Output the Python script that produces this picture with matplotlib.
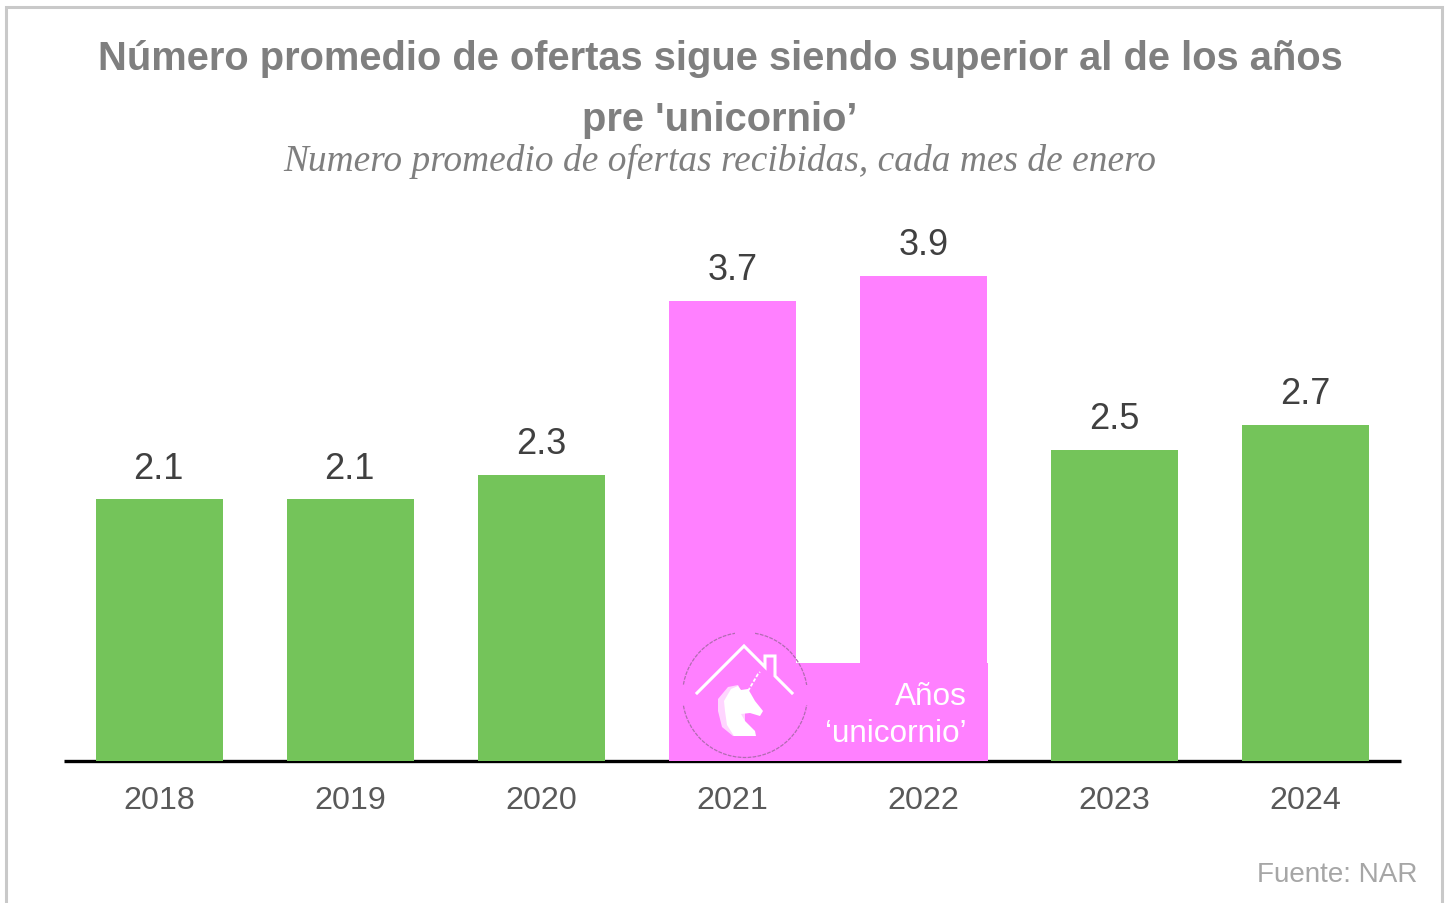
import matplotlib
matplotlib.use("Agg")
import matplotlib.pyplot as plt
from matplotlib.patches import Rectangle, Circle, Polygon
from matplotlib.transforms import Affine2D

W, H = 1447, 904
SANS = "Liberation Sans"
SERIF = "Liberation Serif"

years = ["2018", "2019", "2020", "2021", "2022", "2023", "2024"]
offers = [2.1, 2.1, 2.3, 3.7, 3.9, 2.5, 2.7]
bar_colors = ["#74c45a", "#74c45a", "#74c45a", "#ff80ff", "#ff80ff", "#74c45a", "#74c45a"]

PINK = "#ff80ff"

fig = plt.figure(figsize=(W / 100, H / 100), dpi=100, facecolor="white")

# pixel coordinates, origin top left, for the furniture around the chart
px = Affine2D().scale(1 / W, -1 / H).translate(0, 1) + fig.transFigure


def fig_text(x, y, s, **kw):
    fig.text(x, y, s, transform=px, **kw)


# frame, the bottom edge runs off the picture
fig.add_artist(plt.Line2D([6, 6, 1442, 1442], [904, 8, 8, 904], transform=px,
                          color="#c9c9c9", lw=2.2, solid_joinstyle="miter"))

ax = fig.add_axes([64 / W, 1 - 761.5 / H, (1401 - 64) / W, (761.5 - 200) / H])
ax.bar(years, offers, width=0.667, color=bar_colors, zorder=2)
ax.set_xlim(-0.5, 6.5)
ax.set_ylim(0, 561.5 / 124.3)
for s in ["top", "left", "right"]:
    ax.spines[s].set_visible(False)
ax.spines["bottom"].set_linewidth(2.4)
ax.spines["bottom"].set_color("black")
ax.spines["bottom"].set_zorder(1)
ax.spines["bottom"].set_capstyle("butt")
ax.set_yticks([])
ax.tick_params(axis="x", length=0, pad=17.5, labelsize=23.2, labelcolor="#595959")
for t in ax.get_xticklabels():
    t.set_fontfamily(SANS)

for i, v in enumerate(offers):
    ax.annotate(f"{v}", (i, v), xytext=(-0.7 if i < 2 else 0, 10), textcoords="offset points",
                ha="center", va="bottom", fontsize=26, color="#404040", family=SANS)

fig_text(720, 59, "Número promedio de ofertas sigue siendo superior al de los años",
         ha="center", va="center", fontsize=28.7, fontweight="bold", color="#7f7f7f", family=SANS)
fig_text(720, 120, "pre 'unicornio’",
         ha="center", va="center", fontsize=28.7, fontweight="bold", color="#7f7f7f", family=SANS)
fig_text(720, 161, "Numero promedio de ofertas recibidas, cada mes de enero",
         ha="center", va="center", fontsize=26.9, style="italic", color="#7f7f7f", family=SERIF)
fig_text(1417, 875, "Fuente: NAR", ha="right", va="center", fontsize=20.1, color="#a6a6a6", family=SANS)

# "años unicornio" legend box with the icon on top of the pink bars
fig.add_artist(Rectangle((714, 664), 274, 98, transform=px, facecolor=PINK, edgecolor="none", zorder=5))
fig.add_artist(Circle((745, 696), 62.5, transform=px, facecolor="none", edgecolor="#b06cb0", lw=0.9,
                      ls=(0, (3, 1)), zorder=6))
# gaps in the ring
fig.add_artist(Rectangle((735, 630), 20, 6, transform=px, facecolor=PINK, edgecolor="none", zorder=6.5))
fig.add_artist(Rectangle((678, 686), 8, 20, transform=px, facecolor=PINK, edgecolor="none", zorder=6.5))
fig.add_artist(Rectangle((804, 686), 8, 20, transform=px, facecolor=PINK, edgecolor="none", zorder=6.5))

house_x = [697, 744, 765, 765, 775, 775, 792]
house_y = [694, 647, 668, 657, 657, 677, 694]
fig.add_artist(plt.Line2D(house_x, house_y, transform=px, color="white", lw=2.2,
                          solid_joinstyle="miter", zorder=7))
horn_x = [748, 758, 760]
horn_y = [692, 675, 673]
fig.add_artist(plt.Line2D(horn_x, horn_y, transform=px, color="white", lw=1.3, ls=(0, (2, 1)), zorder=7))

mane = [(718, 700), (728, 688), (738, 686), (745, 700), (745, 737), (733, 737), (722, 728), (718, 712)]
head = [(724, 702), (731, 690), (738, 687), (741, 691), (748, 690), (751, 695), (755, 702), (763, 712),
        (760, 717), (750, 714), (741, 715), (745, 722), (755, 732), (756, 737), (734, 737), (727, 726), (725, 712)]
fig.add_artist(Polygon(mane, closed=True, transform=px, facecolor="#ffd5ff", edgecolor="none", zorder=7))
fig.add_artist(Polygon(head, closed=True, transform=px, facecolor="white", edgecolor="none", zorder=7.5))

fig_text(967, 697, "Años", ha="right", va="center", fontsize=22.7, color="white", family=SANS, zorder=8)
fig_text(967, 734, "‘unicornio’", ha="right", va="center", fontsize=22.7, color="white", family=SANS, zorder=8)

fig.savefig("out.png", dpi=100, facecolor="white")
